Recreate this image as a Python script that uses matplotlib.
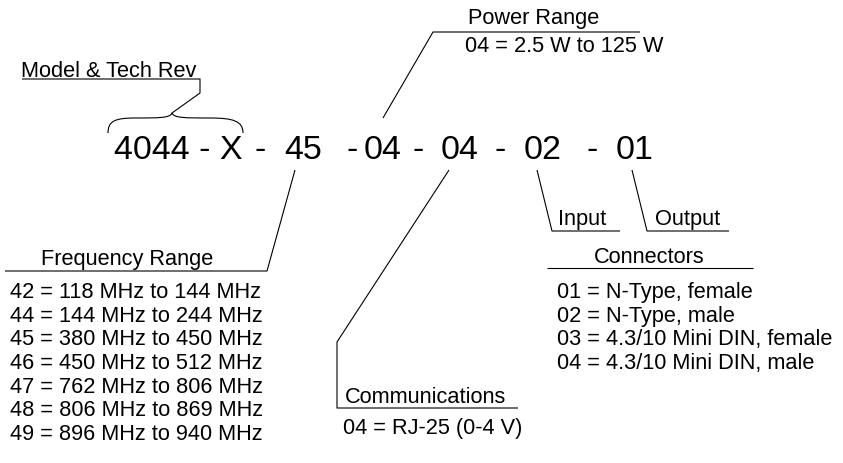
import matplotlib.pyplot as plt
from matplotlib.path import Path
from matplotlib.patches import PathPatch

plt.rcParams['font.family'] = ['Liberation Sans', 'DejaVu Sans']

# part number pieces
code_parts = ["4044 - X", "-", "45", "-", "04", "-", "04", "-", "02", "-", "01"]
code_x = [114, 254, 284, 347, 364, 412, 441, 494, 524, 587, 616]

freq_codes = ["42", "44", "45", "46", "47", "48", "49"]
freq_ranges = ["118 MHz to 144 MHz", "144 MHz to 244 MHz", "380 MHz to 450 MHz",
               "450 MHz to 512 MHz", "762 MHz to 806 MHz", "806 MHz to 869 MHz",
               "896 MHz to 940 MHz"]

conn_codes = ["01", "02", "03", "04"]
conn_types = ["N-Type, female", "N-Type, male", "4.3/10 Mini DIN, female",
              "4.3/10 Mini DIN, male"]

power_code, power_range = "04", "2.5 W to 125 W"
comm_code, comm_type = "04", "RJ-25 (0-4 V)"

W, H = 843, 463
fig = plt.figure(figsize=(W / 100, H / 100), dpi=100)
ax = fig.add_axes([0, 0, 1, 1])
ax.set_xlim(0, W)
ax.set_ylim(H, 0)
ax.axis('off')

big = 24.5
small = 15.7
lw = 0.8
col = 'black'


def line(xs, ys):
    ax.plot(xs, ys, color=col, linewidth=lw, solid_capstyle='butt')


# main part number
for txt, x in zip(code_parts, code_x):
    ax.text(x, 159, txt, fontsize=big, ha='left', va='baseline', color=col)

# model & tech rev with brace
ax.text(21, 77, "Model & Tech Rev", fontsize=small, ha='left', va='baseline')
line([22, 200, 200, 172], [79, 79, 93, 113])
verts = [(108, 133), (108, 121), (115, 118), (135, 118),
         (160, 118), (170, 118), (172, 113),
         (174, 118), (184, 118), (210, 118),
         (233, 118), (243, 121), (243, 133)]
codes = [Path.MOVETO] + [Path.CURVE4] * 12
ax.add_patch(PathPatch(Path(verts, codes), facecolor='none', edgecolor=col, linewidth=lw))

# power range
ax.text(534, 24, "Power Range", fontsize=small, ha='center', va='baseline')
line([383, 433, 640], [118, 32, 32])
ax.text(465, 52, f"{power_code} = {power_range}", fontsize=small, ha='left', va='baseline')

# frequency range
ax.text(127, 265, "Frequency Range", fontsize=small, ha='center', va='baseline')
line([295, 267, 5], [170, 271, 271])
for i, (c, r) in enumerate(zip(freq_codes, freq_ranges)):
    ax.text(10, 298 + i * 23.7, f"{c} = {r}", fontsize=small, ha='left', va='baseline')

# communications
line([449, 337, 337, 518], [170, 342, 408, 408])
ax.text(425, 403, "Communications", fontsize=small, ha='center', va='baseline')
ax.text(343, 434, f"{comm_code} = {comm_type}", fontsize=small, ha='left', va='baseline')

# input / output
line([537, 552, 620], [170, 231, 231])
ax.text(558, 225, "Input", fontsize=small, ha='left', va='baseline')
line([632, 647, 729], [170, 231, 231])
ax.text(655, 225, "Output", fontsize=small, ha='left', va='baseline')

# connectors
ax.text(649, 263, "Connectors", fontsize=small, ha='center', va='baseline')
line([547, 753], [268, 268])
for i, (c, t) in enumerate(zip(conn_codes, conn_types)):
    ax.text(557, 298 + i * 23.7, f"{c} = {t}", fontsize=small, ha='left', va='baseline')

fig.savefig('out.png', dpi=100, facecolor='white')
